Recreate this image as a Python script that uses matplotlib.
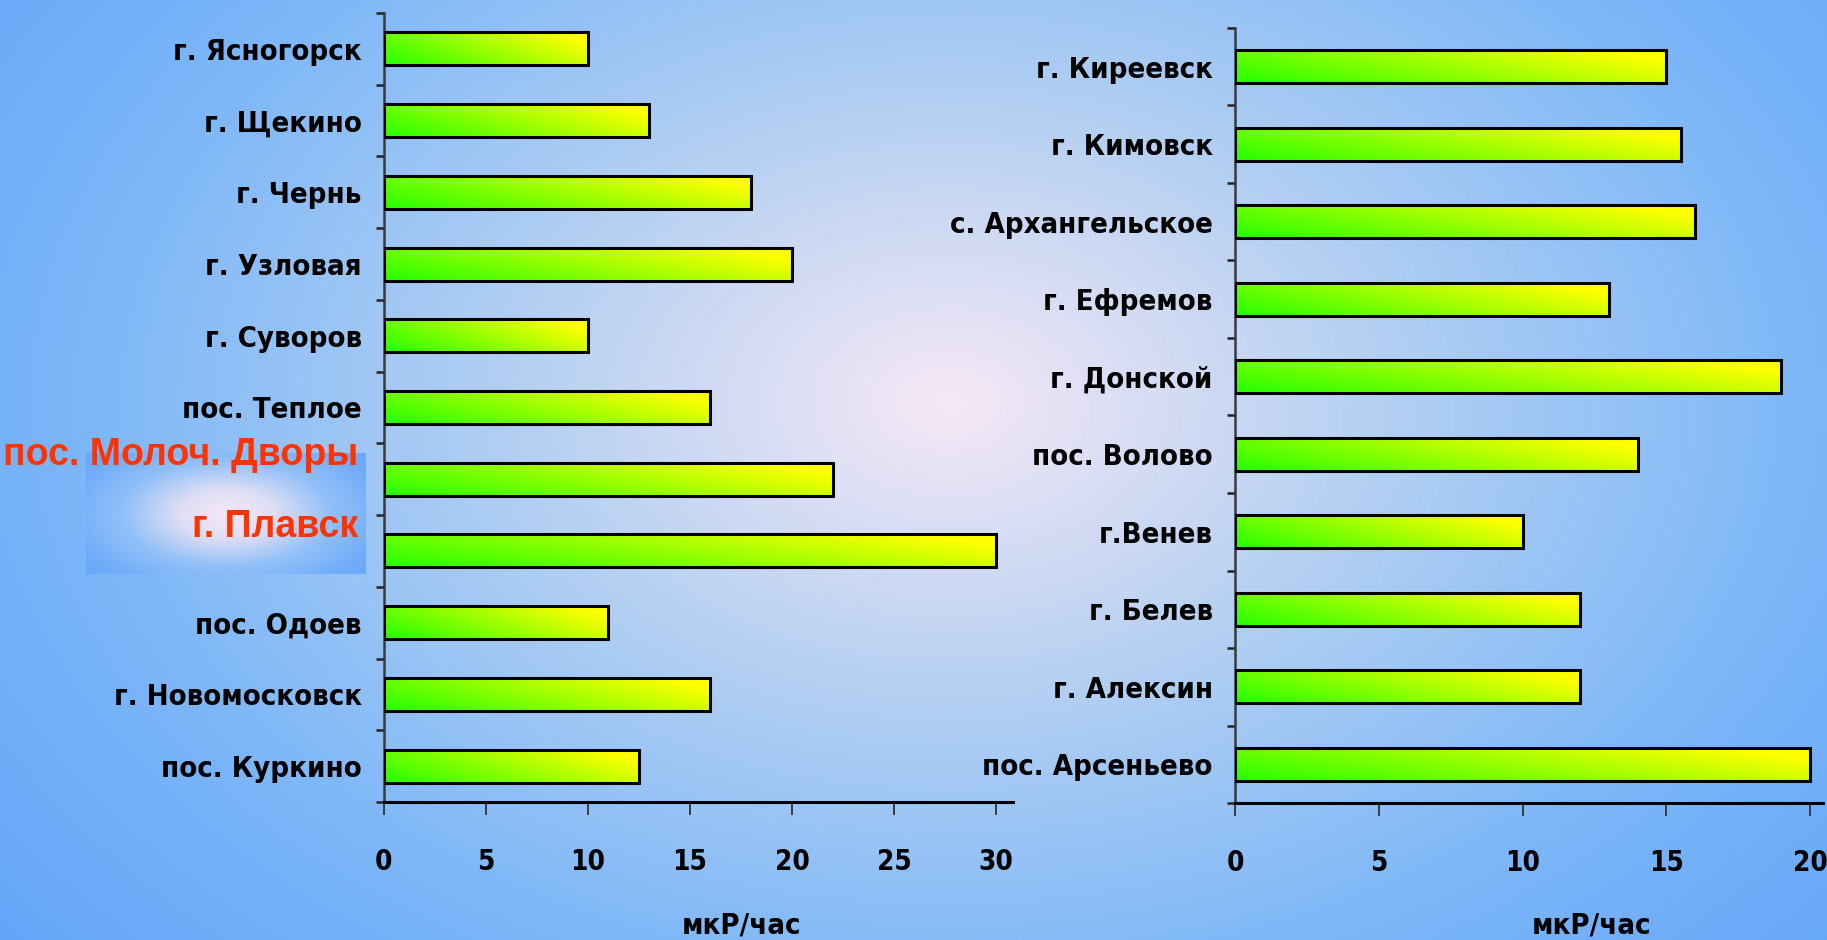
import matplotlib
matplotlib.use("Agg")
import matplotlib.pyplot as plt
import matplotlib.transforms as mtransforms
from matplotlib import font_manager
import numpy as np

# данные: мощность дозы, мкР/час
left_towns = ["г. Ясногорск", "г. Щекино", "г. Чернь", "г. Узловая", "г. Суворов",
              "пос. Теплое", "пос. Молоч. Дворы", "г. Плавск", "пос. Одоев",
              "г. Новомосковск", "пос. Куркино"]
left_values = [10, 13, 18, 20, 10, 16, 22, 30, 11, 16, 12.5]
left_marked = ["пос. Молоч. Дворы", "г. Плавск"]   # подписаны красным
left_ticks = [0, 5, 10, 15, 20, 25, 30]

right_towns = ["г. Киреевск", "г. Кимовск", "с. Архангельское", "г. Ефремов",
               "г. Донской", "пос. Волово", "г.Венев", "г. Белев", "г. Алексин",
               "пос. Арсеньево"]
right_values = [15, 15.5, 16, 13, 19, 14, 10, 12, 12, 20]
right_ticks = [0, 5, 10, 15, 20]

unit = "мкР/час"

# узкий жирный шрифт, если найдется
cond = font_manager.FontProperties(family="DejaVu Sans", stretch="condensed", weight="bold")
if "Condensed" in font_manager.findfont(cond):
    LAB = dict(family=["DejaVu Sans"], fontstretch="condensed", fontweight="bold", fontsize=21)
else:
    LAB = dict(family=["Liberation Sans", "DejaVu Sans"], fontweight="bold", fontsize=19)
NUM = dict(LAB, fontsize=LAB["fontsize"] - 1)

W, H = 1827, 940
fig = plt.figure(figsize=(W / 100, H / 100), dpi=100)


def radial(w, h, cx, cy, rx, ry, stops):
    yy, xx = np.mgrid[0:h, 0:w]
    r = np.sqrt(((xx - cx) / rx) ** 2 + ((yy - cy) / ry) ** 2)
    pos = [s[0] for s in stops]
    img = np.zeros((h, w, 3))
    for c in range(3):
        img[..., c] = np.interp(r, pos, [s[1][c] / 255 for s in stops])
    return img


# фон слайда
bg = fig.add_axes([0, 0, 1, 1], zorder=-2)
bg.imshow(radial(W // 4, H // 4, 945 / 4, 400 / 4, 950 / 4, 650 / 4,
                 [(0, (246, 232, 246)), (0.45, (180, 208, 242)),
                  (0.9, (125, 183, 248)), (1.3, (100, 165, 248))]),
          aspect="auto", extent=(0, 1, 0, 1), origin="upper")
bg.axis("off")

# подсветка под "г. Плавск"
box = fig.add_axes([86 / W, (H - 574) / H, 280 / W, 121 / H], zorder=-1)
box.imshow(radial(140, 60, 70, 30, 80, 40,
                  [(0, (247, 232, 247)), (0.3, (222, 222, 245)),
                   (0.65, (145, 192, 248)), (1.0, (112, 172, 250)),
                   (1.5, (92, 155, 248))]),
           aspect="auto", extent=(0, 1, 0, 1))
box.axis("off")


def gradient_bar(ax, y, val, h):
    nx, ny = 64, 16
    yy, xx = np.mgrid[0:1:ny * 1j, 0:1:nx * 1j]
    t = np.clip(0.78 * xx + 0.32 * (1 - yy), 0, 1)
    green = np.array([0.15, 1.0, 0.0])
    yellow = np.array([1.0, 1.0, 0.0])
    img = green + t[..., None] * (yellow - green)
    ax.imshow(img, extent=(0, val, y - h / 2, y + h / 2), origin="upper",
              aspect="auto", zorder=2, interpolation="bilinear")


def panel(rect, towns, values, ticks, xmax, bar_h, marked=()):
    ax = fig.add_axes(rect, zorder=1)
    ax.patch.set_alpha(0)
    n = len(towns)
    ypos = np.arange(n)[::-1]
    for y, v in zip(ypos, values):
        gradient_bar(ax, y, v, bar_h)
    ax.barh(ypos, values, height=bar_h, facecolor="none",
            edgecolor="black", linewidth=2.2, zorder=3)
    ax.set_xlim(0, xmax)
    ax.set_ylim(-0.5, n - 0.5)

    ax.set_yticks(np.arange(n + 1) - 0.5)
    ax.set_yticklabels([])
    ax.set_yticks(ypos, minor=True)
    ax.set_yticklabels([t if t not in marked else "" for t in towns], minor=True, **LAB)
    ax.tick_params(axis="y", which="major", direction="out", length=6, width=1.8, color="#222222")
    ax.tick_params(axis="y", which="minor", length=0, pad=16)

    ax.set_xticks(ticks)
    ax.set_xticklabels([str(t) for t in ticks], **NUM)
    ax.tick_params(axis="x", direction="out", length=9, width=1.3,
                   color="#333333", pad=24)

    for s in ["top", "right"]:
        ax.spines[s].set_visible(False)
    ax.spines["left"].set_color("#3a3a3a")
    ax.spines["left"].set_linewidth(1.8)
    ax.spines["bottom"].set_color("black")
    ax.spines["bottom"].set_linewidth(2.2)

    # красные подписи, чуть выше своих столбцов
    tr = mtransforms.blended_transform_factory(ax.transAxes, ax.transData)
    tr = tr + mtransforms.ScaledTranslation(0, 24 / 100, fig.dpi_scale_trans)
    for t in marked:
        y = ypos[towns.index(t)]
        ax.text(-0.041, y, t, transform=tr, ha="right", va="center",
                color="#ff3300", fontsize=27, fontweight="bold",
                family=["Liberation Sans", "DejaVu Sans"], clip_on=False)
    return ax


panel([384 / W, (H - 802) / H, 629 / W, 789 / H], left_towns, left_values,
      left_ticks, 30.83, 0.46, left_marked)
panel([1235 / W, (H - 803) / H, 588 / W, 775 / H], right_towns, right_values,
      right_ticks, 20.45, 0.42)

fig.text(742 / W, 7 / H, unit, ha="center", va="baseline", **LAB)
fig.text(1592 / W, 7 / H, unit, ha="center", va="baseline", **LAB)

fig.savefig("out.png", dpi=100)
